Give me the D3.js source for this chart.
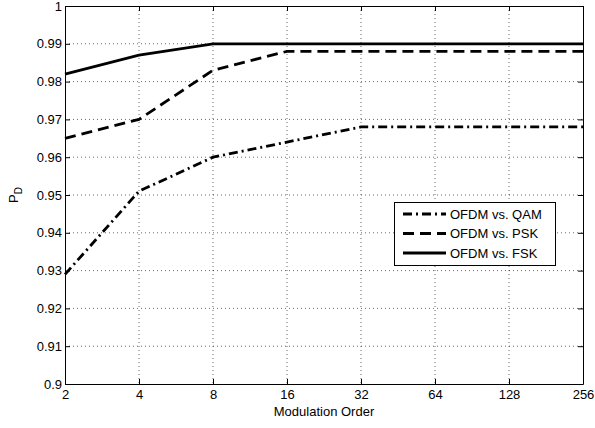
<!DOCTYPE html>
<html><head><meta charset="utf-8">
<script src="https://cdn.jsdelivr.net/npm/d3@7"></script>
<style>body{margin:0;background:#fff}svg{display:block}text{font-family:"Liberation Sans",Arial,sans-serif}</style>
</head><body><svg id="c" width="595" height="428"></svg>
<script>
const orders = [2, 4, 8, 16, 32, 64, 128, 256];
const qam = [0.929, 0.951, 0.960, 0.964, 0.968, 0.968, 0.968, 0.968];
const psk = [0.965, 0.970, 0.983, 0.988, 0.988, 0.988, 0.988, 0.988];
const fsk = [0.982, 0.987, 0.990, 0.990, 0.990, 0.990, 0.990, 0.990];
const yTicks = [0.9, 0.91, 0.92, 0.93, 0.94, 0.95, 0.96, 0.97, 0.98, 0.99, 1];
const seriesNames = ["OFDM vs. QAM", "OFDM vs. PSK", "OFDM vs. FSK"];
const dashes = ["9,4,2,4", "11,6", null];

const L = 65, R = 583, T = 6, B = 384;
const svg = d3.select("#c");
const x = d3.scaleLog().base(2).domain([2, 256]).range([L, R]);
const y = d3.scaleLinear().domain([0.9, 1]).range([B, T]);
const fs = 13;

// grid
const g = svg.append("g");
g.selectAll(".gx").data(orders.slice(1, -1)).join("line")
  .attr("x1", d => x(d)).attr("x2", d => x(d)).attr("y1", T).attr("y2", B)
  .attr("stroke", "#000").attr("stroke-width", 0.6).attr("stroke-dasharray", "1,3");
g.selectAll(".gy").data(yTicks.slice(1, -1)).join("line")
  .attr("x1", L).attr("x2", R).attr("y1", d => y(d)).attr("y2", d => y(d))
  .attr("stroke", "#000").attr("stroke-width", 0.6).attr("stroke-dasharray", "1,3");

// data lines
const line = d3.line().x((d, i) => x(orders[i])).y(d => y(d));
[qam, psk, fsk].forEach((s, k) => {
  svg.append("path").attr("d", line(s)).attr("fill", "none").attr("stroke", "#000")
    .attr("stroke-width", 2.8).attr("stroke-dasharray", dashes[k]);
});

// axes
const xAxis = d3.axisBottom(x).tickValues(orders).tickFormat(d3.format("d")).tickSizeInner(-5).tickSizeOuter(0).tickPadding(6);
const xa = svg.append("g").attr("transform", `translate(0,${B})`).call(xAxis);
const yAxis = d3.axisLeft(y).tickValues(yTicks).tickFormat(d => d === 1 || d === 0.9 ? String(d) : d3.format(".2f")(d)).tickSizeInner(-5).tickSizeOuter(0).tickPadding(3);
const ya = svg.append("g").attr("transform", `translate(${L},0)`).call(yAxis);
const xt = svg.append("g").attr("transform", `translate(0,${T})`).call(d3.axisTop(x).tickValues(orders).tickFormat("").tickSizeInner(-5).tickSizeOuter(0));
const yr = svg.append("g").attr("transform", `translate(${R},0)`).call(d3.axisRight(y).tickValues(yTicks).tickFormat("").tickSizeInner(-5).tickSizeOuter(0));
[xa, ya, xt, yr].forEach(a => {
  a.select(".domain").attr("stroke", "#000").attr("stroke-width", 1);
  a.selectAll(".tick line").attr("stroke", "#000").attr("stroke-width", 1);
  a.selectAll("text").attr("font-size", fs).attr("font-family", "Liberation Sans, Arial, sans-serif").attr("fill", "#000");
});

// labels
svg.append("text").attr("x", (L + R) / 2).attr("y", 416).attr("text-anchor", "middle").attr("font-size", fs).text("Modulation Order");
const yl = svg.append("text").attr("transform", `translate(18,${(T + B) / 2}) rotate(-90)`).attr("text-anchor", "middle").attr("font-size", fs);
yl.append("tspan").text("P");
yl.append("tspan").attr("font-size", 10).attr("dy", 4).text("D");

// legend
const lg = svg.append("g");
lg.append("rect").attr("x", 394.5).attr("y", 202.5).attr("width", 161).attr("height", 63)
  .attr("fill", "#fff").attr("stroke", "#000").attr("stroke-width", 1);
seriesNames.forEach((n, k) => {
  const yy = 214 + k * 19.5;
  lg.append("line").attr("x1", 403).attr("x2", 446).attr("y1", yy).attr("y2", yy)
    .attr("stroke", "#000").attr("stroke-width", 2.8).attr("stroke-dasharray", dashes[k]);
  lg.append("text").attr("x", 450).attr("y", yy + 4.5).attr("font-size", fs).text(n);
});
</script></body></html>
